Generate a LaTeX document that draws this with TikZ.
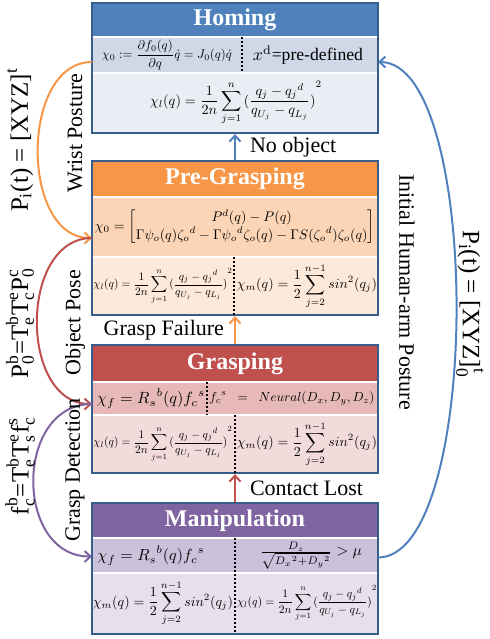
\documentclass[tikz,border=0pt]{standalone}
\usepackage{amsmath}
\usepackage{graphicx}
\usepackage[no-math]{fontspec}
\setmainfont{Liberation Serif}
\usetikzlibrary{arrows.meta, positioning, fit}
\definecolor{azul}{HTML}{4F81BD}
\definecolor{azulA}{HTML}{D0D8E8}
\definecolor{azulB}{HTML}{E9EDF4}
\definecolor{laranja}{HTML}{F79646}
\definecolor{laranjaA}{HTML}{FBD5B5}
\definecolor{laranjaB}{HTML}{FDE9D9}
\definecolor{vermelho}{HTML}{C0504D}
\definecolor{vermelhoA}{HTML}{E6B9B8}
\definecolor{vermelhoB}{HTML}{F2DCDB}
\definecolor{roxo}{HTML}{8064A2}
\definecolor{roxoA}{HTML}{CCC1DA}
\definecolor{roxoB}{HTML}{E5E0EC}
\definecolor{borda}{HTML}{385D8A}
\newcommand{\eqbox}[2]{\resizebox{#1}{!}{$\displaystyle #2$}}
\newcommand{\chil}{\chi_l(q) = \frac{1}{2n}\sum_{j=1}^{n}{(\frac{q_j-{q_j}^d}{q_{U_j}-q_{L_j}})}^2}
\newcommand{\chim}{\chi_m(q) = \frac{1}{2}\sum_{j=2}^{n-1}sin^2(q_j)}
\tikzset{
  faixa/.style={minimum width=143pt, inner sep=0pt, outer sep=0pt, draw=white, line width=0.8pt},
  titulo/.style={faixa, text=white, font=\fontsize{12}{14}\selectfont\bfseries},
  moldura/.style={draw=borda, line width=1.1pt, inner sep=0pt},
  eq/.style={inner sep=0pt},
  divisor/.style={line width=1pt, dash pattern=on 1pt off 1pt},
  seta/.style={-{Straight Barb[length=3pt,width=5.5pt]}, line width=1pt},
  arco/.style={seta},
  rotulo/.style={inner sep=0pt, text=black, font=\fontsize{11}{13}\selectfont},
  formula/.style={inner sep=0pt, text=black, font=\fontsize{12.5}{14}\selectfont},
}

\begin{document}
\begin{tikzpicture}[x=0.5pt, y=-0.5pt]
  \useasboundingbox (0,0) rectangle (489,639);

  % Homing
  \node[titulo, fill=azul, minimum height=17pt, anchor=north] (htit) at (235,3) {Homing};
  \node[faixa, fill=azulA, minimum height=18pt, below=0pt of htit] (hl1) {};
  \node[faixa, fill=azulB, minimum height=30pt, below=0pt of hl1] (hl2) {};
  \node[moldura, fit=(htit)(hl2)] (homing) {};
  \node[eq] (h1a) at (hl1 -| 167,0) {\eqbox{65pt}{\chi_0 := \frac{\partial f_0(q)}{\partial q}\dot{q} = J_0(q)\dot{q}}};
  \node[eq] (h1b) at (hl1 -| 308,0) {\resizebox{55pt}{!}{$x^{\mathrm{d}}$=pre-defined}};
  \node[eq] (h2) at (hl2 -| 236,0) {\eqbox{86pt}{\chil}};
  \draw[divisor] (hl1.north -| 242,0) -- (hl1.south -| 242,0);

  % Pre-Grasping
  \node[titulo, fill=laranja, minimum height=18pt, anchor=north] (ptit) at (235,161) {Pre-Grasping};
  \node[faixa, fill=laranjaA, minimum height=30pt, below=0pt of ptit] (pl1) {};
  \node[faixa, fill=laranjaB, minimum height=29pt, below=0pt of pl1] (pl2) {};
  \node[moldura, fit=(ptit)(pl2)] (pre) {};
  \node[eq] (p1) at (pl1 -| 235,0) {\eqbox{140pt}{\chi_0 = \begin{bmatrix} P^d(q) - P(q) \\ \Gamma\psi_o(q){\zeta_o}^d - \Gamma{\psi_o}^d\zeta_o(q) - \Gamma S({\zeta_o}^d)\zeta_o(q) \end{bmatrix}}};
  \node[eq] (p2a) at (pl2 -| 163,0) {\eqbox{69.5pt}{\chil}};
  \node[eq] (p2b) at (pl2 -| 307,0) {\eqbox{70pt}{\chim}};
  \draw[divisor] (pl2.north -| 234,0) -- (pl2.south -| 234,0);

  % Grasping
  \node[titulo, fill=vermelho, minimum height=18.5pt, anchor=north] (gtit) at (235,345) {Grasping};
  \node[faixa, fill=vermelhoA, minimum height=16.5pt, below=0pt of gtit] (gl1) {};
  \node[faixa, fill=vermelhoB, minimum height=29pt, below=0pt of gl1] (gl2) {};
  \node[moldura, fit=(gtit)(gl2)] (grasp) {};
  \node[eq] (g1a) at (gl1 -| 151,0) {\eqbox{54pt}{\chi_f = {R_s}^b(q){f_c}^s}};
  \node[eq] (g1b) at (gl1 -| 292,0) {\eqbox{82.5pt}{{f_c}^s \;\;=\;\; Neural(D_x, D_y, D_z)}};
  \node[eq] (g2a) at (gl2 -| 163,0) {\eqbox{69.5pt}{\chil}};
  \node[eq] (g2b) at (gl2 -| 307,0) {\eqbox{70pt}{\chim}};
  \draw[divisor] (gl1.north -| 207,0) -- (gl1.south -| 207,0);
  \draw[divisor] (gl2.north -| 235,0) -- (gl2.south -| 235,0);

  % Manipulation
  \node[titulo, fill=roxo, minimum height=17.5pt, anchor=north] (mtit) at (235,503) {Manipulation};
  \node[faixa, fill=roxoA, minimum height=17.5pt, below=0pt of mtit] (ml1) {};
  \node[faixa, fill=roxoB, minimum height=30.5pt, below=0pt of ml1] (ml2) {};
  \node[moldura, fit=(mtit)(ml2)] (manip) {};
  \node[eq] (m1a) at (ml1 -| 151,0) {\eqbox{53.5pt}{\chi_f = {R_s}^b(q){f_c}^s}};
  \node[eq] (m1b) at (ml1 -| 311,0) {\eqbox{51pt}{\tfrac{D_z}{\sqrt{{D_x}^2+{D_y}^2}} > \mu}};
  \node[eq] (m2a) at (ml2 -| 163,0) {\eqbox{70pt}{\chim}};
  \node[eq] (m2b) at (ml2 -| 307,0) {\eqbox{70pt}{\chil}};
  \draw[divisor] (ml1.north -| 235,0) -- (ml2.south -| 235,0);

  % transicoes entre estados
  \draw[seta, azul] (pre.north) -- (homing.south)
    node[rotulo, midway, right=7pt] (lsem) {No object};
  \draw[seta, laranja] (grasp.north) -- (pre.south)
    node[rotulo, midway, left=5pt] (lfalha) {Grasp Failure};
  \draw[seta, vermelho] (manip.north) -- (grasp.south)
    node[rotulo, midway, right=7pt] (lperda) {Contact Lost};

  % arcos laterais
  \coordinate (hsai) at ([yshift=-3.5pt]hl1.west);
  \coordinate (pent) at ([yshift=-5.5pt]pl1.west);
  \coordinate (gent) at ([yshift=-2.75pt]gl1.west);
  \coordinate (ment) at ([yshift=-0.5pt]ml1.west);
  \coordinate (msai) at ([yshift=-1pt]ml1.east);
  \coordinate (hent) at ([yshift=-3.5pt]hl1.east);
  \draw[arco, laranja] (hsai) to[out=180, in=180, looseness=1.05] (pent);
  \draw[arco, vermelho] (pent) to[out=180, in=180, looseness=1.13] (gent);
  \draw[arco, roxo] (gent) to[out=180, in=180, looseness=1.31] (ment);
  \draw[arco, azul] (msai) to[out=0, in=0, looseness=0.54] (hent);

  \node[rotulo, rotate=90] (lpulso) at (75,133) {Wrist Posture};
  \node[formula, rotate=90] (fpulso) at (20,140) {$\text{P}_\text{i}\text{(t) = [XYZ]}^\text{t}$};
  \node[rotulo, rotate=90] (lobjeto) at (75,323) {Object Pose};
  \node[formula, rotate=90] (fobjeto) at (20,323) {$\text{P}_\text{0}^\text{b}\text{=T}_\text{e}^\text{b}\text{T}_\text{c}^\text{e}\text{P}_\text{0}^\text{c}$};
  \node[rotulo, rotate=90] (ldetec) at (75,470) {Grasp Detection};
  \node[formula, rotate=90] (fdetec) at (20,466) {$\text{f}_\text{c}^\text{b}\text{=T}_\text{e}^\text{b}\text{T}_\text{s}^\text{e}\text{f}_\text{c}^\text{s}$};
  \node[rotulo, rotate=-90] (linicial) at (407,292) {Initial Human-arm Posture};
  \node[formula, rotate=-90] (finicial) at (470,304) {$\text{P}_\text{i}\text{(t) = [XYZ]}_\text{0}^\text{t}$};
\end{tikzpicture}
\end{document}
